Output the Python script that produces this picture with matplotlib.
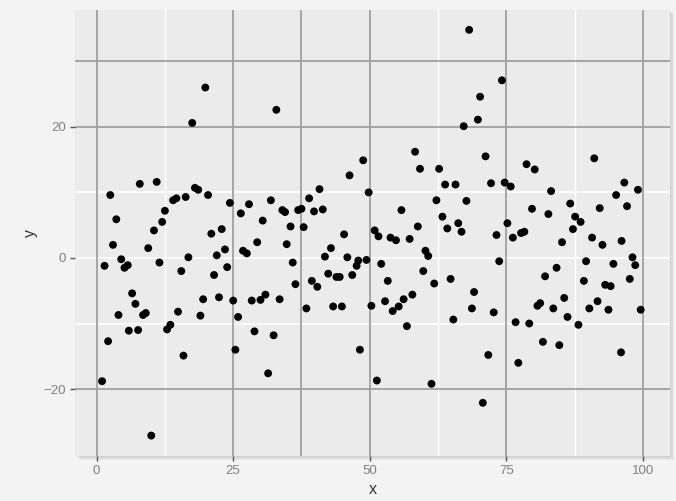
import numpy as np
import matplotlib
matplotlib.use("Agg")
import matplotlib.pyplot as plt
from matplotlib.patches import FancyBboxPatch

# ── data ─────────────────────────────────────────────────────────────────────
x_vals = [
    1.0, 1.45, 2.1, 2.5, 3.0, 3.6, 4.0, 4.5, 5.1, 5.7, 5.9, 6.5, 7.1, 7.6, 7.9,
    8.5, 9.0, 9.45, 10.0, 10.5, 11.0, 11.5, 12.0, 12.5, 12.9, 13.5, 14.0, 14.6,
    14.9, 15.5, 15.9, 16.3, 16.8,
    17.5, 18.0, 18.6, 19.0, 19.5, 19.9, 20.4, 21.0, 21.5, 22.0, 22.4, 22.9, 23.5,
    23.9, 24.4, 25.0, 25.4, 25.9, 26.4, 26.8, 27.5, 27.9, 28.4, 28.9, 29.4, 30.0,
    30.4, 30.9, 31.4, 31.9, 32.4, 32.9, 33.5, 34.0, 34.5, 34.8,
    35.5, 35.9, 36.4, 36.9, 37.5, 37.9, 38.4, 38.9, 39.4, 39.8, 40.4, 40.8, 41.4,
    41.8, 42.4, 42.9, 43.3, 43.9, 44.5, 44.9, 45.3, 45.9, 46.3, 46.8, 47.6, 47.9,
    48.2, 48.8, 49.4, 49.8, 50.3, 50.9, 51.3, 51.6, 52.1,
    52.8, 53.3, 53.8, 54.2, 54.8, 55.3, 55.8, 56.2, 56.8, 57.3, 57.8, 58.3, 58.8,
    59.2, 59.8, 60.2, 60.7, 61.3, 61.8, 62.2, 62.7, 63.3, 63.8, 64.2, 64.8, 65.3,
    65.7, 66.2, 66.8, 67.2, 67.7, 68.2, 68.7, 69.1,
    69.8, 70.2, 70.7, 71.2, 71.7, 72.2, 72.7, 73.2, 73.7, 74.2, 74.7, 75.2, 75.8,
    76.2, 76.7, 77.2, 77.7, 78.3, 78.7, 79.2, 79.7, 80.2, 80.7, 81.2, 81.7, 82.1,
    82.7, 83.2, 83.6, 84.2, 84.7, 85.2, 85.6, 86.2, 86.7,
    87.2, 87.6, 88.2, 88.6, 89.2, 89.6, 90.2, 90.7, 91.1, 91.7, 92.1, 92.6, 93.1,
    93.7, 94.1, 94.6, 95.1, 96.0, 96.1, 96.6, 97.1, 97.6, 98.1, 98.6, 99.1, 99.6,
]
y_vals = [
    -18.8, -1.2, -12.7, 9.6, 2.0, 5.9, -8.7, -0.2, -1.5, -1.1, -11.1, -5.4, -7.0,
    -11.0, 11.3, -8.7, -8.4, 1.5, -27.1, 4.2, 11.6, -0.7, 5.5, 7.2, -10.9, -10.2,
    8.8, 9.1, -8.2, -2.0, -14.9, 9.3, 0.1,
    20.6, 10.7, 10.4, -8.8, -6.3, 26.0, 9.6, 3.7, -2.6, 0.4, -6.0, 4.4, 1.3, -1.4,
    8.4, -6.5, -14.0, -9.0, 6.8, 1.1, 0.7, 8.2, -6.5, -11.2, 2.4, -6.4, 5.7, -5.6,
    -17.6, 8.8, -11.8, 22.6, -6.3, 7.3, 7.0, 2.1,
    4.8, -0.7, -4.0, 7.3, 7.5, 4.7, -7.7, 9.1, -3.5, 7.1, -4.4, 10.5, 7.4, 0.2,
    -2.4, 1.5, -7.4, -2.9, -2.9, -7.4, 3.6, 0.1, 12.6, -2.6, -1.2, -0.4, -14.0,
    14.9, -0.3, 10.0, -7.3, 4.2, -18.7, 3.3, -0.9,
    -6.6, -3.5, 3.1, -8.1, 2.7, -7.4, 7.3, -6.3, -10.4, 2.9, -5.6, 16.2, 4.8, 13.6,
    -2.0, 1.1, 0.3, -19.2, -3.9, 8.8, 13.6, 6.3, 11.2, 4.5, -3.2, -9.4, 11.2, 5.3,
    4.0, 20.1, 8.7, 34.8, -7.7, -5.2,
    21.1, 24.6, -22.1, 15.5, -14.8, 11.4, -8.3, 3.5, -0.5, 27.1, 11.5, 5.3, 10.9,
    3.1, -9.8, -16.0, 3.8, 4.0, 14.3, -10.0, 7.5, 13.5, -7.3, -6.9, -12.8, -2.8,
    6.7, 10.2, -7.7, -1.5, -13.3, 2.4, -6.1, -9.0, 8.3,
    4.4, 6.3, -10.2, 5.5, -3.5, -0.5, -7.7, 3.1, 15.2, -6.6, 7.6, 2.0, -4.1, -7.9,
    -4.3, -0.9, 9.6, -14.4, 2.6, 11.5, 7.9, -3.2, 0.1, -1.1, 10.4, -7.9,
]

x_ticks = [0, 25, 50, 75, 100]
y_ticks = [-20, 0, 20]

# grid lines as they look in the reference (some dark, some white)
dark_vgrid = [0, 25, 37.5, 50, 75, 100]
light_vgrid = [12.5, 62.5, 87.5]
dark_hgrid = [-20, 20, 30]
light_hgrid = [-10, 0, 10]

# ── figure ───────────────────────────────────────────────────────────────────
fig = plt.figure(figsize=(6.76, 5.01), dpi=100, facecolor="#F3F3F3")
ax = fig.add_axes([0.111, 0.090, 0.880, 0.891])
ax.set_zorder(2)

# soft drop shadow behind the panel
for i, a in enumerate([0.06, 0.05, 0.04]):
    off = (i + 1) * 1.5 / 676
    shadow = FancyBboxPatch((0.111 + off, 0.090 - off * 1.3), 0.880, 0.891,
                            boxstyle="square,pad=0", transform=fig.transFigure,
                            facecolor="black", edgecolor="none", alpha=a, zorder=0)
    fig.patches.append(shadow)

ax.set_facecolor("#EBEBEB")
for s in ax.spines.values():
    s.set_visible(False)

for v in light_vgrid:
    ax.axvline(v, color="white", lw=1.0, zorder=1)
for h in light_hgrid:
    ax.axhline(h, color="white", lw=1.2, zorder=1)
for v in dark_vgrid:
    ax.axvline(v, color="#A0A0A0", lw=1.3, zorder=1.5)
for h in dark_hgrid:
    ax.axhline(h, color="#A0A0A0", lw=1.3, zorder=1.5)

ax.scatter(x_vals, y_vals, s=32, color="black", edgecolors="none", zorder=3)

ax.set_xlim(-3.95, 104.95)
ax.set_ylim(-30.2, 37.9)
ax.set_xticks(x_ticks)
ax.set_yticks(y_ticks)
ax.tick_params(axis="both", length=3.5, width=1.0, color="#555555",
               labelcolor="#7F7F7F", labelsize=9.5, pad=3)
for lab in ax.get_xticklabels() + ax.get_yticklabels():
    lab.set_family("Liberation Sans")

ax.set_xlabel("x", fontsize=11.5, color="#333333", family="Liberation Sans", labelpad=4)
ax.set_ylabel("y", fontsize=11.5, color="#333333", family="Liberation Sans", labelpad=4)

plt.savefig("out.png", dpi=100, facecolor=fig.get_facecolor())
